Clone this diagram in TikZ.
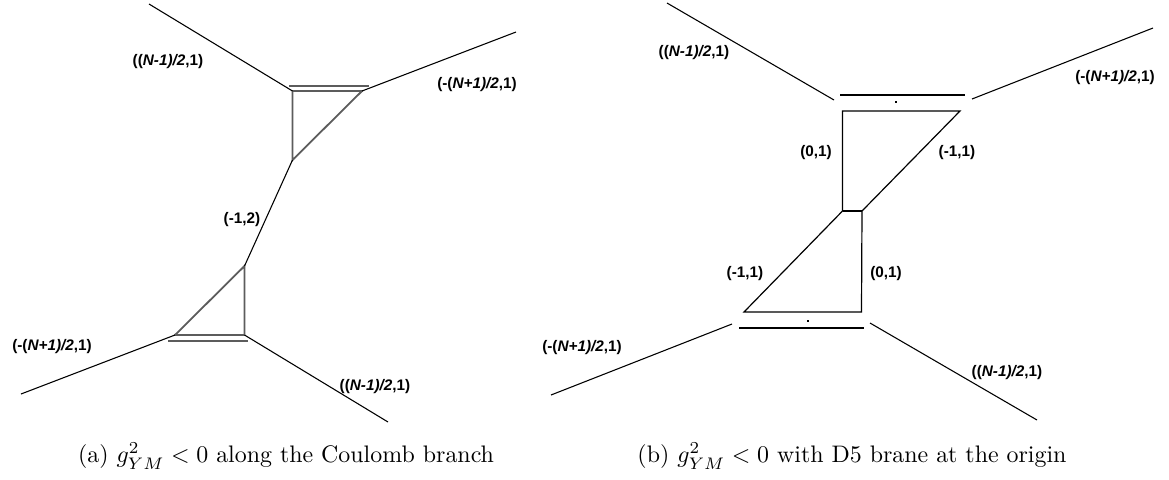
\documentclass[tikz,border=0pt]{standalone}
\usepackage{amsmath, amssymb}
\usepackage{fontspec}
\setsansfont{Liberation Sans}
\usepackage{tikz}
\definecolor{branegray}{HTML}{5C5C5C}

\begin{document}
\begin{tikzpicture}[x=0.147mm, y=-0.147mm]
      % Toiles de (p,q)-branes, coordonnees en pixels (y vers le bas)
      % On definit les styles
      \tikzstyle{leg} = [black, line width=0.45pt]
      \tikzstyle{face} = [branegray, line width=0.75pt]
      \tikzstyle{web} = [black, line width=0.5pt]
      \tikzstyle{charge} = [font=\sffamily\bfseries\fontsize{6.4}{7.5}\selectfont, inner sep=0pt]
      \tikzstyle{caption} = [font=\normalsize, inner sep=0pt]
      \useasboundingbox (0,0) rectangle (1169,479);

      % (a) Coulomb branch
      \coordinate (ua) at (292.5,91);
      \coordinate (ub) at (362,91);
      \coordinate (uc) at (292.5,160);
      \coordinate (la) at (244.5,335);
      \coordinate (lb) at (175,335);
      \coordinate (lc) at (244.5,266);
      \coordinate (ud1) at (289,86);
      \coordinate (ud2) at (369,86);
      \coordinate (ld1) at (168,341);
      \coordinate (ld2) at (248,341);
      \coordinate (atl) at (149,4);
      \coordinate (atr) at (516,32);
      \coordinate (abl) at (21,394);
      \coordinate (abr) at (388,422);

      \draw[face] (ua) -- (ub) -- (uc) -- cycle;
      \draw[face] (ud1) -- (ud2);
      \draw[face] (la) -- (lb) -- (lc) -- cycle;
      \draw[face] (ld1) -- (ld2);
      \draw[leg] (uc) -- (lc);
      \draw[leg] (ua) -- (atl);
      \draw[leg] (ub) -- (atr);
      \draw[leg] (lb) -- (abl);
      \draw[leg] (la) -- (abr);

      \node[charge] (atlq) at (168,62) {((\textit{N-1)/2},1)};
      \node[charge] (atrq) at (477,85) {(-(\textit{N+1)/2},1)};
      \node[charge] (amid) at (242,220) {(-1,2)};
      \node[charge] (ablq) at (52,347) {(-(\textit{N+1)/2},1)};
      \node[charge] (abrq) at (375,387) {((\textit{N-1)/2},1)};

      % (b) D5 brane at the origin
      \coordinate (p1) at (842.5,111);
      \coordinate (p2) at (960,111);
      \coordinate (p3) at (842.5,211);
      \coordinate (p4) at (862,211);
      \coordinate (p5) at (744,312);
      \coordinate (p6) at (861.5,312);
      \coordinate (bo1) at (840,95);
      \coordinate (bo2) at (965,95);
      \coordinate (bo3) at (739,328);
      \coordinate (bo4) at (864,328);
      \coordinate (btl0) at (834,100);
      \coordinate (btl) at (667,3);
      \coordinate (btr0) at (972,99);
      \coordinate (btr) at (1153,28);
      \coordinate (bbl0) at (732,324);
      \coordinate (bbl) at (551,395);
      \coordinate (bbr0) at (870,323);
      \coordinate (bbr) at (1037,420);

      \draw[web] (p1) -- (p2) -- (p4) -- (p6) -- (p5) -- (p3) -- cycle;
      \draw[web] (p3) -- (p4);
      \draw[web] (bo1) -- (bo2);
      \draw[web] (bo3) -- (bo4);
      \fill (894.8,100.8) rectangle +(2.6,2.6);
      \fill (806.6,319.6) rectangle +(2.6,2.6);
      \draw[leg] (btl0) -- (btl);
      \draw[leg] (btr0) -- (btr);
      \draw[leg] (bbl0) -- (bbl);
      \draw[leg] (bbr0) -- (bbr);

      \node[charge] (btlq) at (694,53) {((\textit{N-1)/2},1)};
      \node[charge] (btrq) at (1115,78) {(-(\textit{N+1)/2},1)};
      \node[charge] (bul) at (816,153) {(0,1)};
      \node[charge] (bur) at (957,153) {(-1,1)};
      \node[charge] (bll) at (745,274) {(-1,1)};
      \node[charge] (blr) at (886,274) {(0,1)};
      \node[charge] (bblq) at (582,348) {(-(\textit{N+1)/2},1)};
      \node[charge] (bbrq) at (1007,373) {((\textit{N-1)/2},1)};

      % Legendes
      \node[caption] (capa) at (286,456) {(a) $g^2_{YM}<0$ along the Coulomb branch};
      \node[caption] (capb) at (852,456) {(b) $g^2_{YM}<0$ with D5 brane at the origin};

    \end{tikzpicture}
\end{document}
